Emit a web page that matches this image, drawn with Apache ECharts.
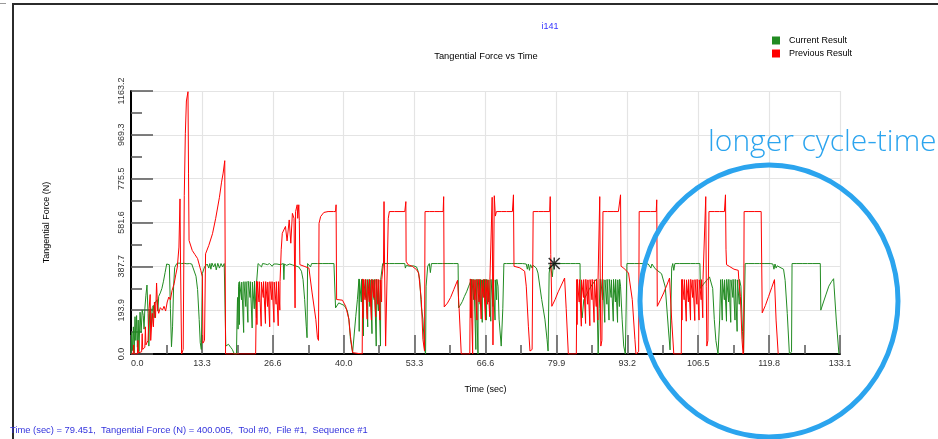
<!DOCTYPE html>
<html>
<head>
<meta charset="utf-8">
<script src="https://cdn.jsdelivr.net/npm/echarts@6/dist/echarts.min.js"></script>
<style>
  html, body { margin: 0; padding: 0; background: #ffffff; }
  #chart { width: 938px; height: 439px; }
</style>
</head>
<body>
<div id="chart"></div>
<script>
// Axis tick labels as printed by the acquisition software
const timeTickLabels = ['0.0', '13.3', '26.6', '40.0', '53.3', '66.6', '79.9', '93.2', '106.5', '119.8', '133.1'];
const forceTickLabels = ['0.0', '193.9', '387.7', '581.6', '775.5', '969.3', '1163.2'];
const timeMax = 133.1;
const forceMax = 1163.2;

// Current Result: [time (sec), tangential force (N)]
const currentResult = [
  [0.0,0],[0.15,95],[0.3,15],[0.45,120],[0.6,0],[0.75,165],[0.9,60],[1.05,170],[1.2,30],[1.35,150],[1.5,10],[1.7,185],[1.9,95],[2.1,195],[2.3,170],[2.45,110],[2.6,200],[2.8,260],[3.0,305],[3.1,311],[3.2,180],[3.35,35],[3.5,190],[3.7,200],[3.85,120],[4.0,205],[4.2,215],[4.35,160],[4.5,225],[4.7,232],[4.9,240],[5.05,190],[5.2,255],[5.5,270],[5.8,290],[6.1,322],[6.4,360],[6.7,398],[7.0,400],[7.2,395],[7.4,200],[7.6,32],[7.8,120],[8.0,300],[8.2,383],[8.6,400],
  [9.0,402],[9.5,400],[10.0,401],[10.5,399],[11.0,400],[11.4,398],[11.7,390],[12.2,344],[12.5,285],[12.8,153],[13.0,50],[13.2,20],[13.4,356],[13.8,385],[14.3,398],[14.6,380],[14.8,400],[15.0,375],[15.2,402],[15.5,385],[15.8,400],[16.0,372],[16.3,401],[16.6,380],[16.9,400],[17.2,385],[17.5,400],[17.7,398],[17.8,35],[18.0,40],[18.3,43],[18.7,30],[19.0,21],[19.4,0],[19.8,0],
  [19.9,150],[20.0,250],[20.1,110],[20.2,300],[20.3,318],[20.34,130],[20.38,320],[20.71,316],[20.75,240],[20.79,318],[21.11,322],[21.15,95],[21.19,320],[21.51,316],[21.55,210],[21.59,320],[21.91,318],[21.95,140],[21.99,322],[22.31,317],[22.35,250],[22.39,320],[22.71,322],[22.75,115],[22.79,318],[23.11,320],[23.15,200],[23.19,322],[23.51,316],[23.55,160],[23.59,320],[23.75,320],[23.85,400],
  [24.2,398],[24.5,385],[24.7,400],[25.2,398],[25.6,395],[26.0,400],[26.5,388],[26.8,398],[27.4,398],[28.0,395],[28.6,400],[28.7,329],[28.8,398],[29.2,392],[29.8,398],[30.3,394],[30.8,390],[31.5,385],[32.0,366],[32.3,329],[32.6,241],[32.9,123],[33.05,72],[33.15,400],[33.5,398],[33.7,385],[33.9,400],[35.0,400],[36.0,400],[37.0,400],[38.1,400],[38.4,204],[39.0,226],[40.0,215],[40.6,193],[40.9,154],[41.2,65],[41.6,6],[41.9,0],
  [42.2,167],[42.5,240],[42.8,332],[42.84,100],[42.88,330],[43.2,334],[43.24,230],[43.28,330],[43.6,332],[43.64,80],[43.68,328],[44.0,334],[44.04,250],[44.08,330],[44.4,332],[44.44,120],[44.48,330],[44.8,334],[44.84,210],[44.88,328],[45.2,332],[45.24,90],[45.28,330],[45.6,334],[45.64,240],[45.68,330],[46.0,332],[46.04,35],[46.08,330],[46.4,334],[46.44,190],[46.48,328],[46.8,332],[46.84,35],[46.88,330],[47.05,332],[47.25,400],
  [47.6,400],[48.5,400],[49.5,400],[50.5,400],[51.4,400],[51.5,380],[51.7,392],[52.3,388],[53.0,390],[53.6,385],[53.9,366],[54.2,329],[54.5,211],[54.8,154],[55.1,22],[55.3,0],[55.4,300],[55.7,388],[56.0,400],[56.2,360],[56.4,400],[57.5,400],[58.5,400],[59.5,400],[60.5,400],[61.4,400],[61.5,204],
  [61.8,215],[62.2,232],[62.6,255],[63.0,275],[63.4,300],[63.9,329],
  [63.94,160],[63.98,330],[64.3,332],[64.34,240],[64.38,330],[64.7,334],[64.74,20],[64.78,330],[65.1,332],[65.14,0],[65.18,330],[65.5,334],[65.54,220],[65.58,330],[65.9,332],[65.94,140],[65.98,328],[66.3,334],[66.34,250],[66.38,330],[66.7,332],[66.74,150],[66.78,330],[67.1,334],[67.14,230],[67.18,328],[67.5,332],[67.54,145],[67.58,330],[67.9,334],[67.94,210],[67.98,330],[68.3,332],[68.34,150],[68.38,328],[68.6,332],[68.64,240],[68.68,330],[68.75,332],[68.9,300],[69.1,154],[69.5,35],[69.8,200],[70.0,400],
  [70.5,400],[71.5,400],[72.5,400],[73.5,400],[74.2,398],[74.4,375],[74.6,398],[74.8,370],[75.0,395],[75.3,380],[75.5,392],[76.1,380],[76.4,358],[77.1,241],[77.7,154],[78.1,65],[78.3,13],[78.5,358],[78.7,395],[78.9,400],[79.1,341],[79.3,400],[79.451,400.005],[80.5,400],[81.5,400],[82.5,400],[83.5,400],[84.3,400],[84.35,226],
  [84.7,160],[85.0,240],[85.5,262],[86.0,285],[86.5,305],[87.0,320],[87.4,332],[87.7,0],
  [87.9,200],[88.1,332],[88.14,150],[88.18,330],[88.5,334],[88.54,240],[88.58,330],[88.9,332],[88.94,140],[88.98,328],[89.3,334],[89.34,220],[89.38,330],[89.7,332],[89.74,150],[89.78,330],[90.1,334],[90.14,250],[90.18,328],[90.5,332],[90.54,145],[90.58,330],[90.9,334],[90.94,230],[90.98,330],[91.3,332],[91.34,140],[91.38,328],[91.65,332],[91.69,210],[91.73,330],[91.9,300],[92.2,154],[92.5,35],[92.8,0],[93.1,400],
  [93.5,400],[94.5,400],[95.5,400],[96.5,400],[97.1,398],[97.4,392],[97.6,380],[97.8,398],[98.4,377],[99.6,355],[100.3,296],[100.9,106],[101.2,18],[101.5,380],[101.7,400],[101.9,370],[102.1,400],[103.0,400],[104.0,400],[105.0,400],[106.0,400],[106.8,400],[106.9,290],[107.5,310],[108.2,329],[108.6,341],[109.2,290],[109.5,153],[109.8,60],[110.2,0],[110.5,150],
  [110.7,329],[110.95,332],[110.99,150],[111.03,330],[111.35,334],[111.39,240],[111.43,328],[111.75,332],[111.79,145],[111.83,330],[112.15,334],[112.19,230],[112.23,330],[112.55,332],[112.59,140],[112.63,328],[112.95,334],[112.99,250],[113.03,330],[113.35,332],[113.39,150],[113.43,330],[113.75,334],[113.79,100],[113.83,328],[114.15,332],[114.19,220],[114.23,330],[114.5,300],[114.8,100],[115.0,6],[115.2,0],[115.3,400],
  [116.0,400],[117.0,400],[118.0,400],[119.0,400],[120.0,400],[120.5,398],[120.7,375],[120.9,398],[121.1,380],[121.3,390],[122.5,375],[122.8,326],[123.2,180],[123.6,0],[124.0,10],[124.1,400],[125.0,400],[126.0,400],[127.0,400],[128.0,400],[129.4,400],[129.5,194],[130.0,230],[130.5,265],[131.0,300],[131.5,320],[131.9,333],[132.0,296],[132.4,150],[132.9,0]
];

// Previous Result: [time (sec), tangential force (N)]
const previousResult = [
  [0.0,0],[0.4,0],[0.5,40],[0.6,0],[1.2,0],[1.3,60],[1.4,5],[2.0,10],[2.1,90],[2.2,20],[2.6,30],[2.7,120],[2.8,40],[3.2,60],[3.4,200],[3.6,263],[3.7,60],[4.0,180],[4.2,120],[4.4,230],[4.6,160],[4.8,314],[5.0,200],[5.2,180],[5.5,205],[5.9,194],[6.2,211],[6.5,190],[6.8,230],[7.1,252],[7.4,240],[7.7,280],[8.1,311],[8.4,350],[8.7,385],[9.0,473],[9.2,686],[9.3,400],[9.5,0],[9.8,20],[10.0,700],[10.2,974],[10.4,1119],[10.7,1160],[10.8,800],[10.9,502],[11.5,458],[12.0,440],[12.5,422],[13.1,370],[13.4,341],[13.5,48],[13.8,60],[14.0,443],[14.6,480],[15.3,532],[15.9,600],[16.6,693],[17.0,760],[17.3,800],[17.6,855],[17.75,0],[23.4,0],
  [23.5,200],[23.6,322],[23.64,130],[23.68,320],[24.0,324],[24.04,230],[24.08,320],[24.4,322],[24.44,123],[24.48,318],[24.8,324],[24.84,250],[24.88,320],[25.2,322],[25.24,135],[25.28,320],[25.6,324],[25.64,210],[25.68,318],[26.0,322],[26.04,120],[26.08,320],[26.4,324],[26.44,240],[26.48,320],[26.8,322],[26.84,140],[26.88,318],[27.2,324],[27.24,220],[27.28,320],[27.6,322],[27.64,125],[27.68,320],[27.9,324],[27.94,194],[27.98,320],[28.1,322],
  [28.2,461],[28.4,534],[29.0,564],[29.3,500],[29.7,593],[30.0,490],[30.3,622],[30.6,600],[30.8,204],[30.9,630],[31.2,660],[31.3,600],[31.5,660],[31.6,590],[31.7,395],[32.5,388],[33.4,380],[34.0,270],[34.7,153],[35.0,72],[35.2,60],[35.3,578],[35.6,608],[36.2,626],[37.0,630],[38.0,630],[38.4,630],[38.5,660],[38.6,241],[39.7,238],[40.3,211],[40.9,154],[41.2,79],[41.6,6],[41.8,0],[43.4,0],
  [43.5,332],[43.54,160],[43.58,330],[43.9,334],[43.94,240],[43.98,330],[44.3,332],[44.34,154],[44.38,328],[44.7,334],[44.74,230],[44.78,330],[45.1,332],[45.14,150],[45.18,330],[45.5,334],[45.54,250],[45.58,328],[45.9,332],[45.94,165],[45.98,330],[46.3,334],[46.34,220],[46.38,330],[46.7,332],[46.74,150],[46.78,328],[47.0,334],[47.04,230],[47.08,330],[47.2,332],
  [47.4,400],[47.5,674],[47.6,400],[47.8,35],[48.0,40],[48.3,600],[48.5,630],[49.5,630],[50.5,630],[51.4,630],[51.6,674],[51.65,410],[52.0,395],[52.8,388],[53.6,373],[54.0,358],[54.5,241],[54.8,65],[55.1,13],[55.2,630],[56.0,630],[57.0,630],[58.0,630],[58.6,630],[58.7,696],[58.8,208],[59.4,225],[60.0,250],[60.6,285],[61.3,326],[61.6,200],[62.0,0],[63.6,0],
  [63.7,332],[63.74,160],[63.78,330],[64.1,334],[64.14,0],[64.18,330],[64.5,332],[64.54,240],[64.58,328],[64.9,334],[64.94,150],[64.98,330],[65.3,332],[65.34,230],[65.38,330],[65.7,334],[65.74,155],[65.78,328],[66.1,332],[66.14,250],[66.18,330],[66.5,334],[66.54,150],[66.58,330],[66.9,332],[66.94,220],[66.98,328],[67.3,334],[67.34,165],[67.38,330],[67.6,332],
  [67.8,693],[67.95,40],[68.2,700],[68.4,610],[68.6,630],[69.5,630],[70.5,630],[71.6,630],[71.8,704],[71.9,388],[73.0,381],[73.9,366],[74.2,300],[74.6,123],[74.9,13],[75.3,20],[75.5,630],[76.5,630],[77.5,630],[78.6,630],[78.7,696],[78.8,440],[79.0,211],[79.6,240],[80.2,275],[80.8,305],[81.4,336],[81.7,200],[82.1,0],[83.6,0],
  [83.7,329],[83.74,130],[83.78,330],[84.1,327],[84.14,230],[84.18,329],[84.5,331],[84.54,123],[84.58,328],[84.9,330],[84.94,250],[84.98,329],[85.3,327],[85.34,135],[85.38,330],[85.7,331],[85.74,220],[85.78,328],[86.1,330],[86.14,125],[86.18,329],[86.5,327],[86.54,240],[86.58,330],[86.9,331],[86.94,140],[86.98,328],[87.3,330],[87.34,210],[87.38,329],[87.6,330],[87.64,150],[87.68,329],[87.8,329],
  [88.0,696],[88.1,300],[88.2,35],[88.4,60],[88.6,630],[89.5,630],[90.5,630],[91.5,630],[91.9,704],[92.0,388],[92.5,380],[93.4,358],[94.1,241],[94.6,65],[94.8,0],[95.3,10],[95.4,630],[96.5,630],[97.5,630],[98.6,630],[98.7,682],[98.8,211],[99.4,240],[100.0,270],[100.6,305],[101.1,336],[101.5,150],[101.9,0],[103.3,0],
  [103.4,329],[103.44,150],[103.48,330],[103.8,327],[103.84,240],[103.88,329],[104.2,331],[104.24,145],[104.28,328],[104.6,330],[104.64,230],[104.68,329],[105.0,327],[105.04,150],[105.08,330],[105.4,331],[105.44,250],[105.48,328],[105.8,330],[105.84,148],[105.88,329],[106.2,327],[106.24,220],[106.28,330],[106.6,331],[106.64,150],[106.68,328],[107.0,330],[107.04,240],[107.08,329],[107.3,330],[107.34,160],[107.38,329],[107.5,329],
  [107.9,696],[108.0,300],[108.1,35],[108.3,60],[108.5,630],[109.5,630],[110.5,630],[111.4,630],[111.6,704],[111.7,461],[111.8,395],[112.3,388],[113.2,375],[114.0,370],[114.1,329],[114.4,255],[114.7,65],[114.9,0],[115.0,10],[115.1,630],[116.0,630],[117.0,630],[118.3,630],[118.5,182],[119.1,215],[119.7,255],[120.3,295],[120.8,329],[121.1,150],[121.5,0]
];

// Cursor readout position
const cursorPoint = [[79.451, 400.005]];

const FONT = '"Liberation Sans", Arial, sans-serif';
const timeStep = timeMax / 10;
const forceStep = forceMax / 6;

// Eight-armed asterisk used as the cursor marker
const asteriskPath = 'path://M10.5,0 L13.5,0 L13.5,24 L10.5,24 Z M0,10.5 L24,10.5 L24,13.5 L0,13.5 Z ' +
  'M2.1,0 L24,21.9 L21.9,24 L0,2.1 Z M21.9,0 L24,2.1 L2.1,24 L0,21.9 Z';

const chart = echarts.init(document.getElementById('chart'), null, { renderer: 'canvas' });

const statusText = 'Time (sec) = ' + cursorPoint[0][0].toFixed(3) +
  ',  Tangential Force (N) = ' + cursorPoint[0][1].toFixed(3) +
  ',  Tool #0,  File #1,  Sequence #1';

chart.setOption({
  animation: false,
  backgroundColor: '#ffffff',
  grid: { left: 131, right: 98, top: 91, bottom: 85, containLabel: false },
  legend: {
    orient: 'vertical',
    left: 772,
    top: 36,
    padding: 0,
    itemWidth: 8,
    itemHeight: 8,
    itemGap: 4,
    icon: 'rect',
    textStyle: { fontFamily: FONT, fontSize: 9, color: '#000', padding: [0, 0, 0, 4] },
    data: ['Current Result', 'Previous Result']
  },
  xAxis: {
    type: 'value',
    min: 0,
    max: timeMax,
    interval: timeStep,
    name: 'Time (sec)',
    nameLocation: 'middle',
    nameGap: 31,
    nameTextStyle: { fontFamily: FONT, fontSize: 9, color: '#000' },
    axisLine: { show: true, onZero: false, lineStyle: { color: '#000', width: 2 } },
    axisTick: { show: true, inside: true, length: 19, lineStyle: { color: '#555', width: 1.5 } },
    minorTick: { show: true, splitNumber: 2, length: 9, lineStyle: { color: '#555', width: 1.5 } },
    axisLabel: {
      fontFamily: FONT, fontSize: 9, color: '#333', margin: 5,
      showMinLabel: true, showMaxLabel: true, alignMinLabel: 'left',
      formatter: v => timeTickLabels[Math.round(v / timeStep)] ?? ''
    },
    splitLine: { show: true, lineStyle: { color: '#e4e4e4', width: 1.2 } }
  },
  yAxis: {
    type: 'value',
    min: 0,
    max: forceMax,
    interval: forceStep,
    name: 'Tangential Force (N)',
    nameLocation: 'middle',
    nameGap: 80,
    nameRotate: 90,
    nameTextStyle: { fontFamily: FONT, fontSize: 9, color: '#000' },
    axisLine: { show: true, lineStyle: { color: '#000', width: 2 } },
    axisTick: { show: true, inside: true, length: 22, lineStyle: { color: '#555', width: 1.5 } },
    minorTick: { show: true, splitNumber: 2, length: 11, lineStyle: { color: '#555', width: 1.5 } },
    axisLabel: {
      fontFamily: FONT, fontSize: 9, color: '#333', margin: 5, rotate: 90,
      showMinLabel: true, showMaxLabel: true,
      formatter: v => forceTickLabels[Math.round(v / forceStep)] ?? ''
    },
    splitLine: { show: true, lineStyle: { color: '#e4e4e4', width: 1.2 } }
  },
  series: [
    {
      name: 'Current Result',
      type: 'line',
      data: currentResult,
      showSymbol: false,
      symbol: 'none',
      color: '#228b22',
      lineStyle: { color: '#228b22', width: 1 },
      z: 3
    },
    {
      name: 'Previous Result',
      type: 'line',
      data: previousResult,
      showSymbol: false,
      symbol: 'none',
      color: '#ff0000',
      lineStyle: { color: '#ff0000', width: 1 },
      z: 4
    },
    {
      name: 'Cursor',
      type: 'scatter',
      data: cursorPoint,
      symbol: asteriskPath,
      symbolSize: 12,
      itemStyle: { color: '#000' },
      z: 6,
      silent: true
    }
  ],
  graphic: [
    // window frame
    { type: 'line', z: 50, shape: { x1: 0, y1: 3.5, x2: 6, y2: 3.5 }, style: { stroke: '#9a9a9a', lineWidth: 1 } },
    { type: 'line', z: 50, shape: { x1: 12, y1: 4, x2: 938, y2: 4 }, style: { stroke: '#2b2b2b', lineWidth: 2 } },
    { type: 'line', z: 50, shape: { x1: 13, y1: 4, x2: 13, y2: 439 }, style: { stroke: '#2b2b2b', lineWidth: 2 } },
    // headings
    { type: 'text', z: 50, x: 550, y: 27, style: { text: 'i141', fontFamily: FONT, fontSize: 9, fill: '#3333ff', align: 'center', verticalAlign: 'middle' } },
    { type: 'text', z: 50, x: 486, y: 56, style: { text: 'Tangential Force vs Time', fontFamily: FONT, fontSize: 9.3, fill: '#000', align: 'center', verticalAlign: 'middle' } },
    // cursor readout
    { type: 'text', z: 50, x: 10, y: 430, style: { text: statusText, fontFamily: FONT, fontSize: 9.4, fill: '#3333dd', align: 'left', verticalAlign: 'middle' } },
    // highlight annotation
    { type: 'ellipse', z: 60, shape: { cx: 769, cy: 301, rx: 129, ry: 136 }, style: { fill: null, stroke: '#2ba4ee', lineWidth: 5 } },
    { type: 'text', z: 60, x: 708, y: 142, style: { text: 'longer cycle-time', fontFamily: '"Open Sans", Lato, sans-serif', fontWeight: 300, fontSize: 30, fill: '#2ba4ee', align: 'left', verticalAlign: 'middle' } }
  ]
});
</script>
</body>
</html>
